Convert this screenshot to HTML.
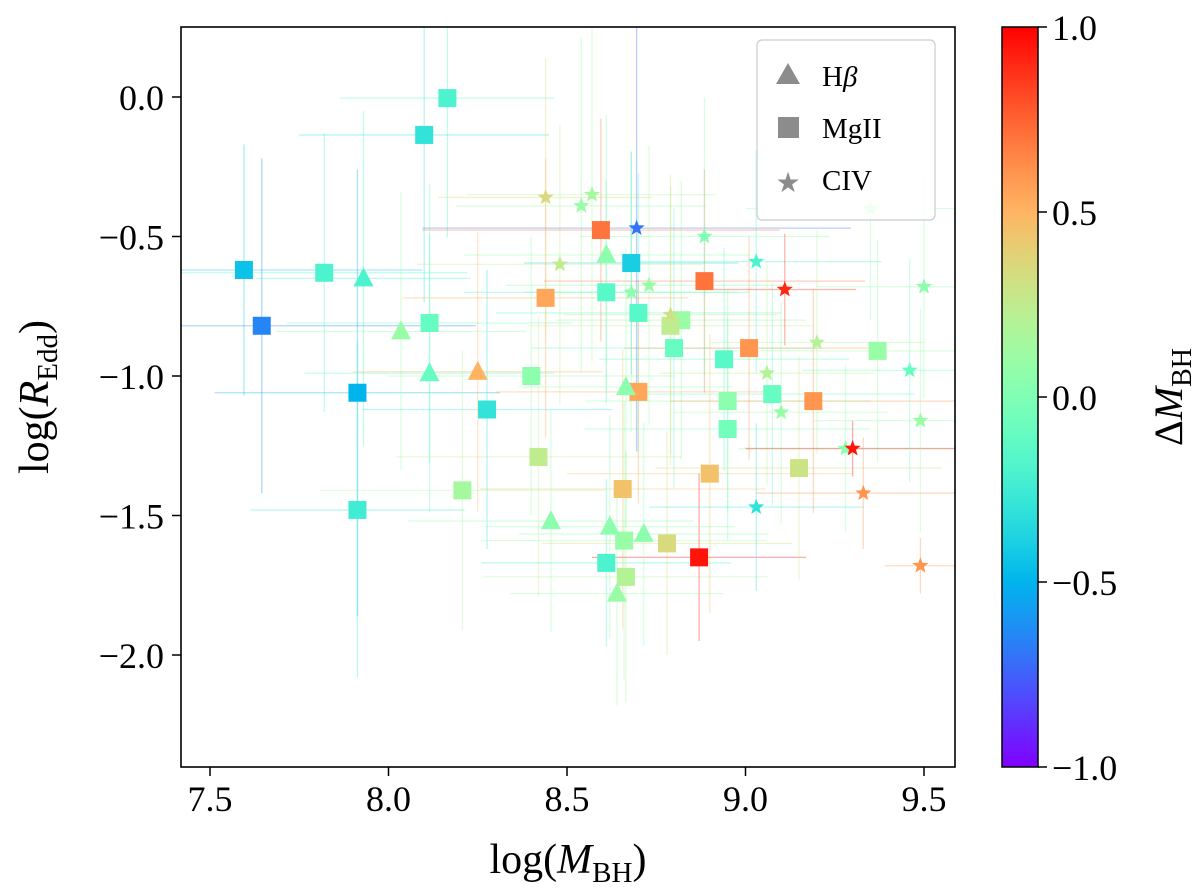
<!DOCTYPE html>
<html><head><meta charset="utf-8"><style>
body{margin:0;background:#fff;}
svg text{font-family:"Liberation Serif",serif;fill:#000;}
</style></head><body>
<svg id="chart" width="1200" height="890" viewBox="0 0 1200 890" xmlns="http://www.w3.org/2000/svg">
<defs>
<linearGradient id="cbg" x1="0" y1="1" x2="0" y2="0"></linearGradient>
<clipPath id="pc"><rect x="181" y="27" width="774" height="740"/></clipPath>
</defs>
<g id="errs" clip-path="url(#pc)"></g>
<g id="marks" clip-path="url(#pc)"></g>
<rect x="181" y="27" width="774" height="740" fill="none" stroke="#000" stroke-width="1.6"/>
<g id="xticks"></g>
<g id="yticks"></g>
<text x="568" y="873" font-size="42" text-anchor="middle">log(<tspan font-style="italic">M</tspan><tspan font-size="29" dy="9">BH</tspan><tspan dy="-9">)</tspan></text>
<text transform="translate(48,397) rotate(-90)" font-size="42" text-anchor="middle">log(<tspan font-style="italic">R</tspan><tspan font-size="29" dy="9">Edd</tspan><tspan dy="-9">)</tspan></text>
<g>
<rect x="757" y="40" width="178" height="180" rx="5" fill="#fff" fill-opacity="0.85" stroke="#ccc" stroke-width="1.2"/>
<polygon points="788,63 800,84 776,84" fill="#8c8c8c"/>
<text x="822" y="86" font-size="29">H<tspan font-style="italic">β</tspan></text>
<rect x="778" y="117" width="21" height="21" fill="#8c8c8c"/>
<text x="822" y="138" font-size="29">MgII</text>
<text x="788" y="192" font-size="28" text-anchor="middle" style="fill:#8c8c8c">★</text>
<text x="822" y="190" font-size="29">CIV</text>
</g>
<rect x="1002" y="27" width="36" height="740" fill="url(#cbg)" stroke="#000" stroke-width="1.5"/>
<g id="cticks"></g>
<text transform="translate(1182,397) rotate(-90)" font-size="40" text-anchor="middle">Δ<tspan font-style="italic">M</tspan><tspan font-size="28" dy="9">BH</tspan></text>
</svg>
<script>
// marker types: t=Hbeta triangle, s=MgII square, c=CIV star
const types = ["s","s","s","s","s","s","s","s","s","s","s","s","s","s","s","s","s","s","s","s","s","s","s","s","s","s","s","s","s","s","s","s","s","s","s","s","s",
 "t","t","t","t","t","t","t","t","t","t",
 "c","c","c","c","c","c","c","c","c","c","c","c","c","c","c","c","c","c","c","c","c","c","c"];
const logM = [8.165,8.10,7.595,7.645,7.82,8.115,7.913,7.913,8.276,8.207,8.40,8.42,8.44,8.595,8.68,8.70,8.61,8.70,8.61,8.656,8.66,8.665,8.78,8.87,8.80,8.82,8.79,8.885,8.90,8.94,8.95,8.95,9.01,9.075,9.15,9.19,9.37,
 7.93,8.035,8.115,8.25,8.61,8.665,8.455,8.62,8.715,8.64,
 8.44,8.57,8.54,8.48,8.695,8.885,8.68,8.73,8.79,9.03,9.11,9.06,9.10,9.03,9.20,9.28,9.30,9.33,9.35,9.46,9.50,9.49,9.49];
const logR = [-0.004,-0.136,-0.62,-0.82,-0.63,-0.81,-1.06,-1.48,-1.12,-1.41,-1.0,-1.29,-0.72,-0.477,-0.595,-0.774,-0.70,-1.057,-1.67,-1.405,-1.59,-1.72,-1.60,-1.65,-0.90,-0.80,-0.82,-0.66,-1.35,-0.94,-1.09,-1.19,-0.90,-1.065,-1.33,-1.09,-0.91,
 -0.65,-0.84,-0.99,-0.985,-0.566,-1.04,-1.52,-1.54,-1.566,-1.78,
 -0.36,-0.35,-0.39,-0.60,-0.47,-0.50,-0.70,-0.675,-0.78,-0.59,-0.69,-0.99,-1.13,-1.47,-0.88,-1.26,-1.26,-1.42,-0.40,-0.98,-0.68,-1.16,-1.68];
const dM = [-0.2,-0.3,-0.45,-0.65,-0.2,-0.1,-0.5,-0.25,-0.3,0.15,0.05,0.25,0.55,0.7,-0.4,-0.15,-0.15,0.55,-0.2,0.45,0.1,0.2,0.35,0.95,-0.1,0.1,0.25,0.7,0.45,-0.15,0.05,-0.05,0.6,-0.1,0.3,0.6,0.1,
 -0.2,0.1,-0.1,0.5,0.05,0.05,0.05,0.05,0.05,0.1,
 0.35,0.15,0.1,0.25,-0.7,0.0,0.05,0.1,0.3,-0.2,0.9,0.2,0.1,-0.3,0.2,0.05,0.95,0.6,0.1,-0.1,0.05,0.1,0.6];
const errM = [0.3,0.35,0.5,0.6,0.4,0.4,0.4,0.3,0.35,0.4,0.4,0.4,0.4,0.5,0.3,0.4,0.4,0.4,0.35,0.4,0.4,0.4,0.35,0.3,0.4,0.35,0.4,0.45,0.4,0.35,0.4,0.4,0.35,0.4,0.4,0.4,0.4,
 0.3,0.35,0.35,0.35,0.4,0.3,0.4,0.35,0.35,0.3,
 0.3,0.35,0.35,0.4,0.6,0.35,0.3,0.4,0.3,0.35,0.2,0.3,0.3,0.3,0.3,0.3,0.3,0.3,0.35,0.3,0.3,0.3,0.1];
const errR = [0.5,0.6,0.45,0.6,0.5,0.5,0.8,0.6,0.5,0.5,0.5,0.5,0.5,0.4,0.4,0.5,0.4,0.4,0.3,0.5,0.5,0.45,0.4,0.3,0.5,0.5,0.5,0.4,0.5,0.4,0.4,0.4,0.4,0.4,0.4,0.4,0.4,
 0.6,0.5,0.5,0.5,0.5,0.5,0.4,0.4,0.4,0.4,
 0.5,0.6,0.6,0.5,0.8,0.5,0.5,0.5,0.5,0.4,0.2,0.4,0.4,0.3,0.4,0.3,0.1,0.2,0.4,0.4,0.4,0.4,0.1];
const xTicks = [7.5,8.0,8.5,9.0,9.5];
const yTicks = [0.0,-0.5,-1.0,-1.5,-2.0];
const cTicks = [1.0,0.5,0.0,-0.5,-1.0];

const NS="http://www.w3.org/2000/svg";
const X = v => 210 + (v-7.5)*357;
const Y = v => 97 - v*279;
const C = v => 767 - (v+1)/2*740;
function cmap(d){
  let x=Math.max(0,Math.min(1,(d+1)/2));
  let r=Math.min(1,Math.abs(2*x-0.5)), g=Math.sin(Math.PI*x), b=Math.cos(Math.PI*x/2);
  return `rgb(${Math.round(r*255)},${Math.round(g*255)},${Math.round(b*255)})`;
}
function mk(tag,attrs,parent){const e=document.createElementNS(NS,tag);for(const k in attrs)e.setAttribute(k,attrs[k]);parent.appendChild(e);return e;}
const errs=document.getElementById('errs'), marks=document.getElementById('marks');
for(let i=0;i<logM.length;i++){
  const col=cmap(dM[i]), x=X(logM[i]), y=Y(logR[i]);
  const h=mk('line',{x1:X(logM[i]-errM[i]),x2:X(logM[i]+errM[i]),y1:y,y2:y,stroke:col,'stroke-opacity':0.35,'stroke-width':1.3},errs);
  
  
  const v=mk('line',{x1:x,x2:x,y1:Y(logR[i]-errR[i]),y2:Y(logR[i]+errR[i]),stroke:col,'stroke-opacity':0.35,'stroke-width':1.3},errs);
  
  
  let m;
  if(types[i]==='s'){ m=mk('rect',{x:x-9,y:y-9,width:18,height:18,fill:col},marks);
     }
  else if(types[i]==='t'){ m=mk('polygon',{points:`${x},${y-11} ${x+10},${y+8} ${x-10},${y+8}`,fill:col},marks);
     }
  else { let p=[];for(let k=0;k<10;k++){const a=-Math.PI/2+k*Math.PI/5, r=k%2?3.6:8.5;p.push((x+r*Math.cos(a)).toFixed(1)+','+(y+r*Math.sin(a)).toFixed(1));}
    m=mk('polygon',{points:p.join(' '),fill:col},marks);
     }
  
}
const xt=document.getElementById('xticks');
xTicks.forEach(t=>{const x=X(t);
  const l=mk('line',{x1:x,x2:x,y1:767,y2:776,stroke:'#000','stroke-width':1.5},xt);
  
  
  const tx=mk('text',{x:x,y:811,'font-size':36,'text-anchor':'middle'},xt);tx.textContent=t.toFixed(1);
  
  
});
const yt=document.getElementById('yticks');
yTicks.forEach(t=>{const y=Y(t);
  const l=mk('line',{x1:172,x2:181,y1:y,y2:y,stroke:'#000','stroke-width':1.5},yt);
  
  
  const tx=mk('text',{x:164,y:y+13,'font-size':36,'text-anchor':'end'},yt);tx.textContent=(t<0?'\u2212':'')+Math.abs(t).toFixed(1);
  
  
});
const ct=document.getElementById('cticks');
cTicks.forEach(t=>{const y=C(t);
  const l=mk('line',{x1:1038,x2:1047,y1:y,y2:y,stroke:'#000','stroke-width':1.5},ct);
  
  
  const tx=mk('text',{x:1052,y:y+13,'font-size':36},ct);tx.textContent=(t<0?'\u2212':'')+Math.abs(t).toFixed(1);
  
  
});
const g=document.getElementById('cbg');
for(let k=0;k<=20;k++){mk('stop',{offset:(k/20),'stop-color':cmap(-1+2*k/20)},g);}
</script>
</body></html>
